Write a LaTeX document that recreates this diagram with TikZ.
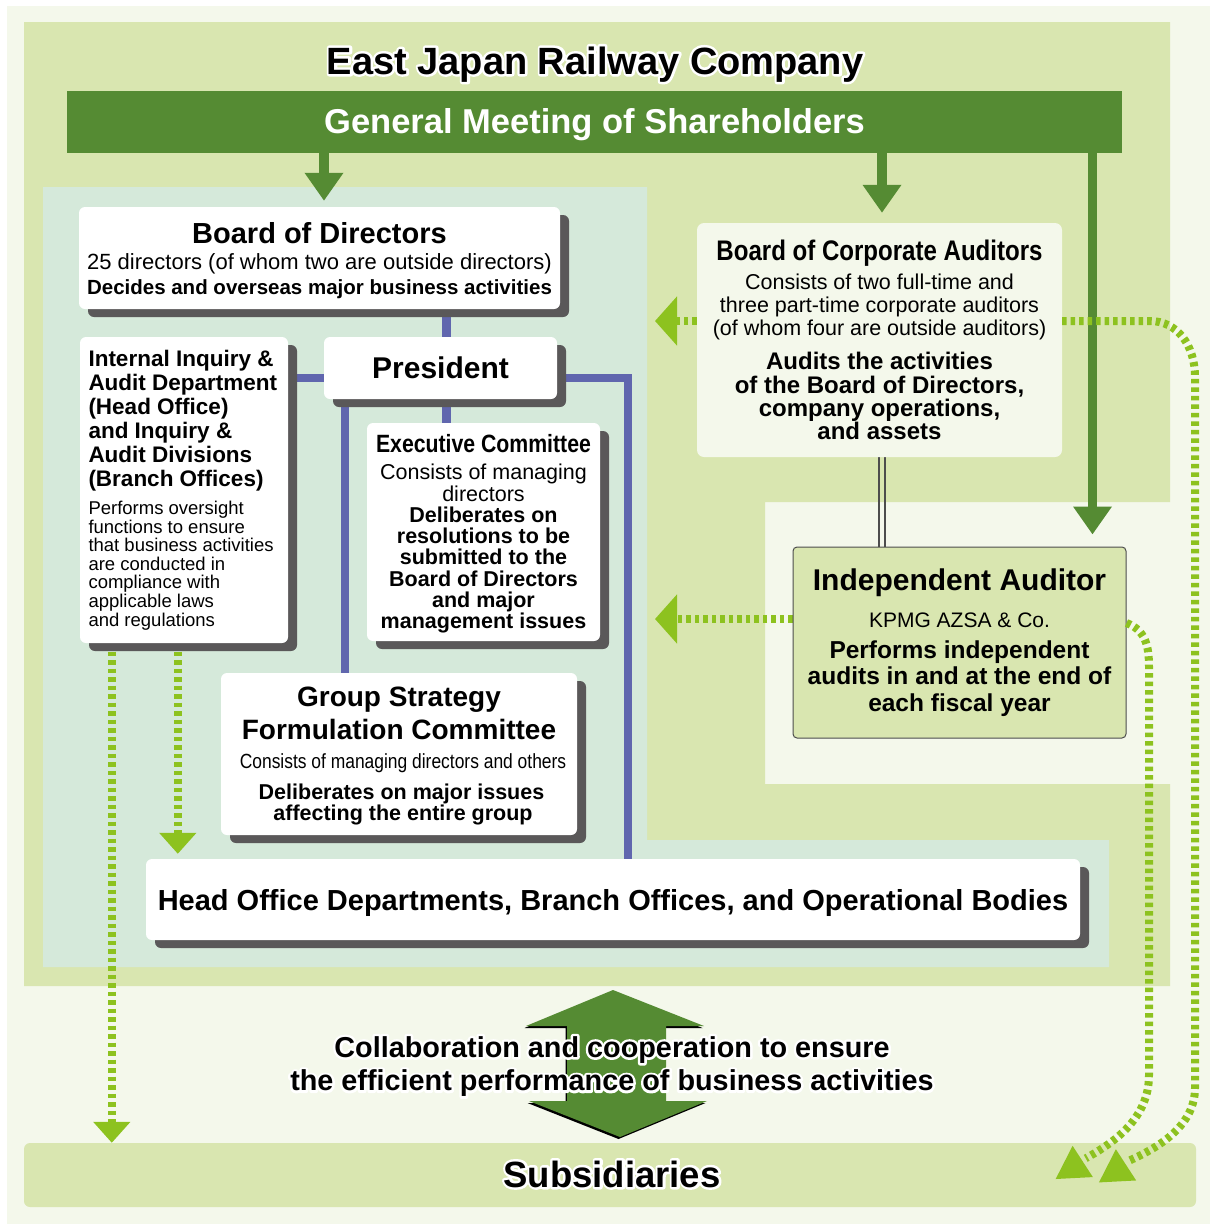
\documentclass[tikz,border=0pt]{standalone}
\usepackage{fontspec}
\setmainfont{Liberation Sans}
\newfontfamily\narrowsans{Liberation Sans}[FakeStretch=0.85]
\usetikzlibrary{arrows.meta,calc,shadows,shapes.geometric}

\definecolor{pagetint}{HTML}{F4F8EB}
\definecolor{companygreen}{HTML}{D9E6B0}
\definecolor{officemint}{HTML}{D5E9DA}
\definecolor{sharegreen}{HTML}{558B33}
\definecolor{auditlime}{HTML}{8DC21F}
\definecolor{reportblue}{HTML}{6066AE}
\definecolor{boxshade}{HTML}{5A5859}
\definecolor{framegray}{HTML}{4D4D4D}

\newcommand{\fsz}[2]{\fontsize{#1}{#2}\selectfont}
% white outline under bold captions: glyphs filled and stroked
\newcommand{\strokedtext}[1]{\special{pdf:literal direct 2 Tr 5 w 1 j 1 J 1 1 1 RG}#1\special{pdf:literal direct 0 Tr}}

\tikzset{
    orgbox/.style={rectangle, rounded corners=6pt, fill=white, inner sep=0pt,
        drop shadow={shadow xshift=9pt, shadow yshift=-8pt, fill=boxshade, opacity=1}},
    auditbox/.style={rectangle, rounded corners=7pt, fill=pagetint, inner sep=0pt}
}
\tikzset{
    orgline/.style={draw=reportblue, line width=8.5pt},
    sharearrow/.style={draw=sharegreen, line width=10pt, -{Triangle[width=37pt,length=28pt]}},
    auditarrow/.style={draw=auditlime, line width=8pt, dash pattern=on 4.5pt off 4pt,
        -{Triangle[width=48pt,length=22pt]}},
    auditdown/.style={draw=auditlime, line width=8.5pt, dash pattern=on 4.5pt off 4pt,
        -{Triangle[width=36pt,length=21pt]}},
    auditcurve/.style={draw=auditlime, line width=8pt, dash pattern=on 4.5pt off 4pt},
    arrowtip/.style={regular polygon, regular polygon sides=3, fill=auditlime,
        inner sep=0pt, minimum size=43pt},
    linkline/.style={draw=framegray, line width=1.8pt},
    halo/.style={text=white}
}
\pgfdeclarelayer{backdrop}
\pgfdeclarelayer{background}
\pgfsetlayers{backdrop,background,main}

\begin{document}
\begin{tikzpicture}[x=1pt, y=-1pt]
    \useasboundingbox (0,0) rectangle (1210,1226);
    \begin{pgfonlayer}{backdrop}
        \fill[white] (0,0) rectangle (1210,1226);
        \fill[pagetint] (7,6) rectangle (1210,1224);
        \fill[companygreen] (24,22) -- (1170,22) -- (1170,502) -- (765,502) -- (765,784)
            -- (1170,784) -- (1170,986) -- (24,986) -- cycle;
        \fill[officemint] (43,187) -- (647,187) -- (647,840) -- (1109,840) -- (1109,967)
            -- (43,967) -- cycle;
    \end{pgfonlayer}

    % company name and shareholders
    \node (title-halo) [halo, anchor=base, font=\fsz{38}{40}\bfseries] at (595,74) {\strokedtext{East Japan Railway Company}};
    \node (title) [anchor=base, font=\fsz{38}{40}\bfseries] at (595,74) {East Japan Railway Company};
    \node (gms) [rectangle, fill=sharegreen, text=white, inner sep=0pt, minimum width=1055pt,
        minimum height=62pt, text height=23pt, text depth=0pt, font=\fsz{34.5}{36}\bfseries] at (594.5,122) {General Meeting of Shareholders};

    % execution side
    \node (bod) [orgbox, minimum width=481pt, minimum height=102pt] at (319.5,258) {\parbox{475pt}{\centering
        \vspace*{5pt}
        {\fsz{29}{26}\bfseries Board of Directors\par}
        {\fsz{22}{25.5}25 directors (of whom two are outside directors)\par}
        {\fsz{20.5}{25}\bfseries Decides and overseas major business activities\par}}};
    \node (pres) [orgbox, minimum width=233pt, minimum height=62pt, font=\fsz{30}{32}\bfseries] at (440.5,368) {President};
    \node (inq) [orgbox, minimum width=208pt, minimum height=306pt] at (184,490) {\parbox{191pt}{\raggedright
        {\fsz{22.5}{24}\bfseries Internal Inquiry \&\\ Audit Department\\ (Head Office)\\ and Inquiry \&\\ Audit Divisions\\ (Branch Offices)\par}
        \vspace{9.4pt}
        {\fsz{18.5}{18.6}Performs oversight\\ functions to ensure\\ that business activities\\ are conducted in\\ compliance with\\ applicable laws\\ and regulations\par}}};
    \node (exec) [orgbox, minimum width=233pt, minimum height=218pt] at (483.5,532) {\parbox{228pt}{\centering
        \vspace*{4pt}
        {\narrowsans\fsz{25}{26}\bfseries Executive Committee\par}
        \vspace{5.7pt}
        {\fsz{21.5}{21.3}Consists of managing\\ directors\par}
        {\fsz{21.5}{21.3}\bfseries Deliberates on\\ resolutions to be\\ submitted to the\\ Board of Directors\\ and major\\ management issues\par}}};
    \node (grp) [orgbox, minimum width=356pt, minimum height=162pt] at (399,754) {\parbox{350pt}{\centering
        \vspace*{4pt}
        {\fsz{28}{33}\bfseries Group Strategy\\ Formulation Committee\par}
        {\narrowsans\fsz{20.5}{29}\hspace*{8pt}Consists of managing directors and others\par}
        \vspace{10pt}
        {\fsz{21.5}{21}\bfseries\hspace*{5pt}Deliberates on major issues\\ \hspace*{8pt}affecting the entire group\par}}};
    \node (head) [orgbox, minimum width=934pt, minimum height=81pt, text height=21pt, text depth=0pt,
        font=\fsz{29}{30}\bfseries] at (613,899.5) {Head Office Departments, Branch Offices, and Operational Bodies};

    % audit side
    \node (bca) [auditbox, minimum width=365pt, minimum height=234pt] at (879.5,340) {\parbox{355pt}{\centering
        {\narrowsans\fsz{28.3}{28}\bfseries Board of Corporate Auditors\par}
        \vspace{6pt}
        {\fsz{21.5}{23}Consists of two full-time and\\ three part-time corporate auditors\\ (of whom four are outside auditors)\par}
        \vspace{11pt}
        {\fsz{24}{23.3}\bfseries Audits the activities\\ of the Board of Directors,\\ company operations,\\ and assets\par}}};
    \node (ia) [rectangle, rounded corners=4pt, draw=framegray, line width=1pt, fill=companygreen, inner sep=0pt,
        minimum width=333pt, minimum height=191pt] at (959.5,642.5) {\parbox{328pt}{\centering
        {\fsz{30}{30}\bfseries Independent Auditor\par}
        \vspace{11pt}
        {\fsz{21}{26}KPMG AZSA \& Co.\par}
        \vspace{4.5pt}
        {\fsz{24.5}{26.5}\bfseries Performs independent\\ audits in and at the end of\\ each fiscal year\par}}};

    % group companies
    \node (sub) [rectangle, rounded corners=6pt, fill=companygreen, inner sep=0pt, minimum width=1172pt,
        minimum height=64pt] at (610,1175) {};
    \node (sub-halo) [halo, anchor=base, font=\fsz{36.5}{38}\bfseries] at (612,1187) {\strokedtext{Subsidiaries}};
    \node (sub-text) [anchor=base, font=\fsz{36.5}{38}\bfseries] at (612,1187) {Subsidiaries};
    \node (tipA) [arrowtip, rotate=3] at (1073.7,1167.3) {};
    \node (tipB) [arrowtip, rotate=3] at (1117,1170.7) {};
    \coordinate (bcaout) at (655,321);
    \coordinate (iaout) at (655,619);

    % two-way arrow between the company and its subsidiaries
    \foreach \col/\dx/\dy in {black/-1.5/2, sharegreen/0/0}
        \fill[\col, shift={(\dx,\dy)}] (613,990) -- (704,1026) -- (666,1026) -- (666,1101) -- (707,1101)
            -- (620,1137) -- (529,1101) -- (567,1101) -- (567,1026) -- (526,1026) -- cycle;
    \node (collab-halo) [halo, align=center, font=\fsz{28.8}{33.5}\bfseries] at (612,1066.5)
        {\strokedtext{Collaboration and cooperation to ensure}\\ \strokedtext{the efficient performance of business activities}};
    \node (collab) [align=center, font=\fsz{28.8}{33.5}\bfseries] at (612,1066.5)
        {Collaboration and cooperation to ensure\\ the efficient performance of business activities};

    % audit reports running down to the subsidiaries
    \draw[auditcurve] ($(ia.east)+(0,-19.5)$) .. controls (1145,630) and (1149,645) .. (1149,667)
        -- (1149,1075) .. controls (1149,1118) and (1115,1142) .. ($(tipA)+(12,-9)$);
    \draw[auditcurve] ($(bca.east)+(0,-19)$) -- (1150,321) .. controls (1177,321) and (1195,345) .. (1195,377)
        -- (1195,1088) .. controls (1195,1124) and (1162,1146) .. ($(tipB)+(12,-10)$);

    \begin{pgfonlayer}{background}
        % reporting lines
        \draw[orgline] ($(pres.north)+(6,0)$) -- ($(pres.north |- bod.south)+(6,0)$);
        \draw[orgline] ($(pres.south)+(6,0)$) -- ($(pres.south |- exec.north)+(6,0)$);
        \draw[orgline] ($(pres.west)+(0,10)$) -- ($(pres.west -| inq.east)+(0,10)$);
        \draw[orgline] ($(pres.south west)+(21,0)$) -- ($(pres.south west |- grp.north)+(21,0)$);
        \draw[orgline] ($(pres.east)+(0,10)$) -| ($(head.north)+(15,0)$);

        % appointments by the shareholders
        \draw[sharearrow, shorten >=6pt] ($(gms.south -| bod.north)+(4.5,0)$) -- ($(bod.north)+(4.5,0)$);
        \draw[sharearrow, shorten >=10pt] ($(gms.south -| bca.north)+(2.5,0)$) -- ($(bca.north)+(2.5,0)$);
        \draw[sharearrow, line width=9pt, shorten >=12pt] ($(gms.south -| ia.north east)+(-34,0)$) -- ($(ia.north east)+(-34,0)$);

        % auditors
        \foreach \dx in {-0.5,5.5}
            \draw[linkline] ($(bca.south)+(\dx,0)$) -- ($(bca.south |- ia.north)+(\dx,0)$);
        \draw[auditarrow] ($(bca.west)+(0,-19)$) -- (bcaout);
        \draw[auditarrow] ($(ia.west)+(0,-23.5)$) -- (iaout);
        \draw[auditdown] ($(inq.south west)+(32,0)$) -- ($(inq.south west |- sub.north)+(32,0)$);
        \draw[auditdown, shorten >=5pt] ($(inq.south west)+(98,0)$) -- ($(inq.south west |- head.north)+(98,0)$);
    \end{pgfonlayer}
\end{tikzpicture}
\end{document}
